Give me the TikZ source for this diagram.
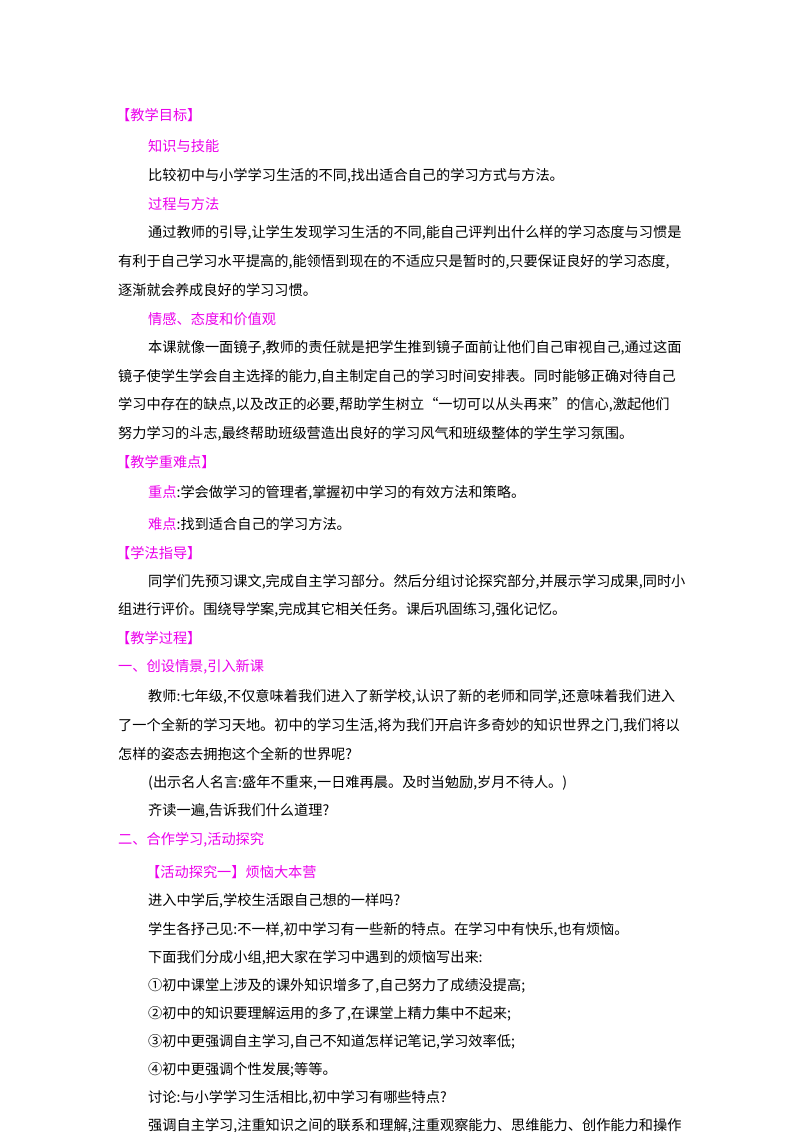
\documentclass[tikz,border=0pt]{standalone}
\usepackage{fontspec}
\setmainfont{Noto Sans CJK SC}
\definecolor{mag}{RGB}{235,0,235}
\begin{document}
\begin{tikzpicture}[x=1pt,y=-1pt,
  t/.style={anchor=west,inner sep=0pt,font=\fontsize{14.2}{16}\selectfont},
  h/.style={t,text=mag}]
\useasboundingbox (0,0) rectangle (800,1132);
\node[h] (a1) at (116,115) {【教学目标】};
\node[h] (a2) at (148,146) {知识与技能};
\node[t] (a3) at (148,176) {比较初中与小学学习生活的不同,找出适合自己的学习方式与方法。};
\node[h] (a4) at (148,204) {过程与方法};
\node[t] (a5) at (148,233) {通过教师的引导,让学生发现学习生活的不同,能自己评判出什么样的学习态度与习惯是};
\node[t] (a6) at (118,262) {有利于自己学习水平提高的,能领悟到现在的不适应只是暂时的,只要保证良好的学习态度,};
\node[t] (a7) at (118,290) {逐渐就会养成良好的学习习惯。};
\node[h] (a8) at (148,319) {情感、态度和价值观};
\node[t] (a9) at (148,348) {本课就像一面镜子,教师的责任就是把学生推到镜子面前让他们自己审视自己,通过这面};
\node[t] (a10) at (118,377) {镜子使学生学会自主选择的能力,自主制定自己的学习时间安排表。同时能够正确对待自己};
\node[t] (a11) at (118,405) {学习中存在的缺点,以及改正的必要,帮助学生树立“一切可以从头再来”的信心,激起他们};
\node[t] (a12) at (118,434) {努力学习的斗志,最终帮助班级营造出良好的学习风气和班级整体的学生学习氛围。};
\node[h] (a13) at (116,462) {【教学重难点】};
\node[t] (a14) at (148,493) {\textcolor{mag}{重点}:学会做学习的管理者,掌握初中学习的有效方法和策略。};
\node[t] (a15) at (148,524) {\textcolor{mag}{难点}:找到适合自己的学习方法。};
\node[h] (a16) at (116,553) {【学法指导】};
\node[t] (a17) at (148,582) {同学们先预习课文,完成自主学习部分。然后分组讨论探究部分,并展示学习成果,同时小};
\node[t] (a18) at (118,610) {组进行评价。围绕导学案,完成其它相关任务。课后巩固练习,强化记忆。};
\node[h] (a19) at (116,638) {【教学过程】};
\node[h] (a20) at (118,667) {一、创设情景,引入新课};
\node[t] (a21) at (148,697) {教师:七年级,不仅意味着我们进入了新学校,认识了新的老师和同学,还意味着我们进入};
\node[t] (a22) at (118,726) {了一个全新的学习天地。初中的学习生活,将为我们开启许多奇妙的知识世界之门,我们将以};
\node[t] (a23) at (118,754) {怎样的姿态去拥抱这个全新的世界呢?};
\node[t] (a24) at (148,783) {(出示名人名言:盛年不重来,一日难再晨。及时当勉励,岁月不待人。)};
\node[t] (a25) at (148,811) {齐读一遍,告诉我们什么道理?};
\node[h] (a26) at (118,840) {二、合作学习,活动探究};
\node[h] (a27) at (146,872) {【活动探究一】烦恼大本营};
\node[t] (a28) at (148,901) {进入中学后,学校生活跟自己想的一样吗?};
\node[t] (a29) at (148,930) {学生各抒己见:不一样,初中学习有一些新的特点。在学习中有快乐,也有烦恼。};
\node[t] (a30) at (148,958) {下面我们分成小组,把大家在学习中遇到的烦恼写出来:};
\node[t] (a31) at (148,986) {①初中课堂上涉及的课外知识增多了,自己努力了成绩没提高;};
\node[t] (a32) at (148,1014) {②初中的知识要理解运用的多了,在课堂上精力集中不起来;};
\node[t] (a33) at (148,1042) {③初中更强调自主学习,自己不知道怎样记笔记,学习效率低;};
\node[t] (a34) at (148,1070) {④初中更强调个性发展;等等。};
\node[t] (a35) at (148,1098) {讨论:与小学学习生活相比,初中学习有哪些特点?};
\node[t] (a36) at (148,1126) {强调自主学习,注重知识之间的联系和理解,注重观察能力、思维能力、创作能力和操作};
\end{tikzpicture}
\end{document}
